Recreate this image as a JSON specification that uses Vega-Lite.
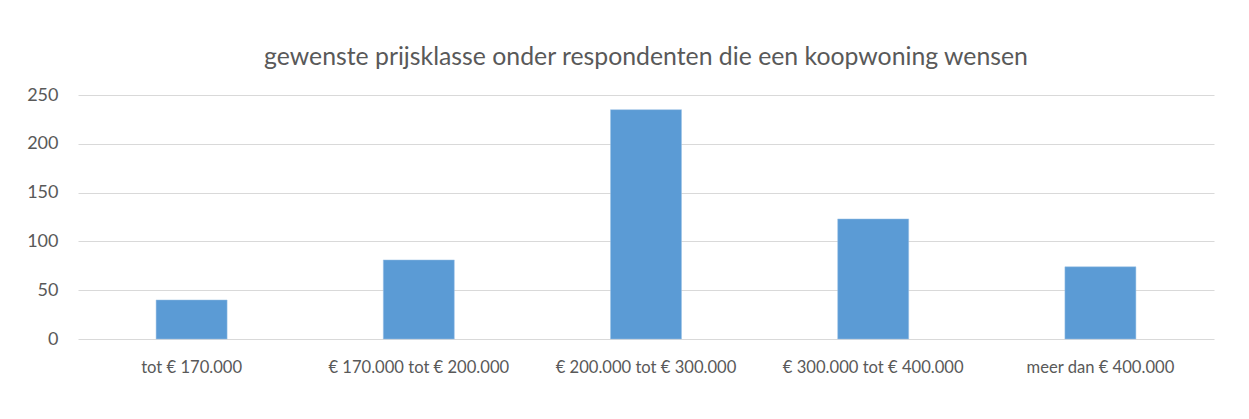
{
  "$schema": "https://vega.github.io/schema/vega-lite/v6.json",
  "autosize": {"type": "none"},
  "width": 1136,
  "height": 244,
  "padding": {"left": 78, "top": 95, "right": 35, "bottom": 80},
  "background": "white",
  "title": {
    "text": "gewenste prijsklasse onder respondenten die een koopwoning wensen",
    "font": "Lato",
    "fontSize": 24.8,
    "fontWeight": "normal",
    "color": "#595959",
    "anchor": "middle",
    "offset": 16
  },
  "data": {
    "values": [
      {"klasse": "tot € 170.000", "aantal": 40},
      {"klasse": "€ 170.000 tot € 200.000", "aantal": 81},
      {"klasse": "€ 200.000 tot € 300.000", "aantal": 235},
      {"klasse": "€ 300.000 tot € 400.000", "aantal": 123},
      {"klasse": "meer dan € 400.000", "aantal": 74}
    ]
  },
  "mark": {"type": "bar", "color": "#5b9bd5", "stroke": "#9dc3e6", "strokeWidth": 0.5},
  "encoding": {
    "x": {
      "field": "klasse",
      "type": "nominal",
      "sort": null,
      "scale": {"paddingInner": 0.6875, "paddingOuter": 0.34375},
      "axis": {
        "title": null,
        "labelAngle": 0,
        "domain": false,
        "ticks": false,
        "labelFont": "Lato",
        "labelFontSize": 16.6,
        "labelColor": "#595959",
        "labelPadding": 20,
        "labelLimit": 0
      }
    },
    "y": {
      "field": "aantal",
      "type": "quantitative",
      "scale": {"domain": [0, 250], "nice": false},
      "axis": {
        "title": null,
        "values": [0, 50, 100, 150, 200, 250],
        "domain": false,
        "ticks": false,
        "gridColor": "#d9d9d9",
        "gridWidth": 1.2,
        "labelFont": "Lato",
        "labelFontSize": 18,
        "labelColor": "#595959",
        "labelPadding": 20
      }
    }
  },
  "config": {
    "view": {"stroke": null}
  }
}
